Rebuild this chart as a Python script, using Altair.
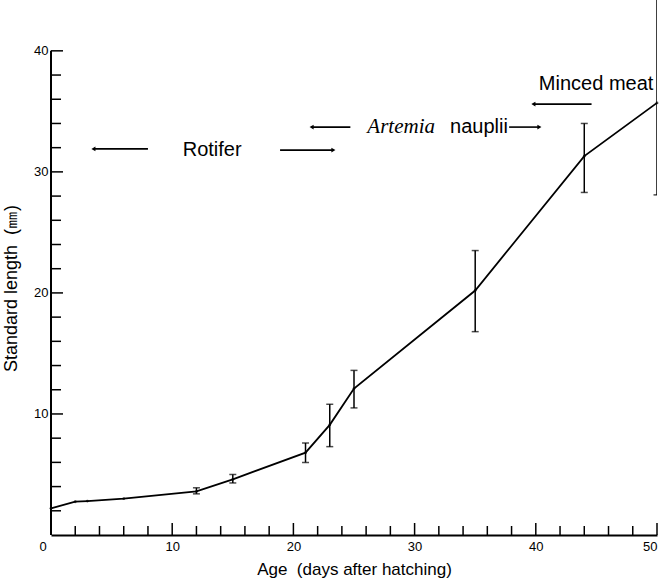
import altair as alt
import pandas as pd

# ---- data ----
age = [0, 2, 3, 6, 12, 15, 21, 23, 25, 35, 44, 50]
length = [2.2, 2.75, 2.8, 3.0, 3.6, 4.6, 6.8, 9.1, 12.1, 20.2, 31.3, 35.7]

err_age = [12, 15, 21, 23, 25, 35, 44, 50]
err_low = [3.4, 4.3, 6.0, 7.3, 10.5, 16.8, 28.3, 28.1]
err_high = [3.9, 5.0, 7.6, 10.8, 13.6, 23.5, 34.0, 44.5]

x_major = [10, 20, 30, 40, 50]
x_minor = [2, 4, 6, 8, 12, 14, 16, 18, 22, 24, 26, 28, 32, 34, 36, 38, 42, 44, 46, 48]
y_major = [10, 20, 30, 40]
y_minor = [2, 4, 6, 8, 12, 14, 16, 18, 22, 24, 26, 28, 32, 34, 36, 38]

# annotation arrows: tail x, head x, y
arrow_tail = [8.0, 18.9, 24.7, 37.8, 44.6]
arrow_head = [3.5, 23.3, 21.5, 40.3, 39.8]
arrow_y = [31.9, 31.8, 33.7, 33.7, 35.6]

center_labels = ["Rotifer"]
center_x = [13.3]
center_y = [31.8]

right_labels = ["nauplii", "Minced\u00a0meat"]
right_x = [37.7, 49.7]
right_y = [33.7, 37.3]

italic_label = ["Artemia"]
italic_x = [26.1]
italic_y = [33.7]

FONT = "Liberation Sans"

df = pd.DataFrame({"age": age, "length": length})
one = pd.DataFrame({"k": [0]})
err = pd.DataFrame({"age": err_age, "lo": err_low, "hi": err_high})
arrows = pd.DataFrame({"x1": arrow_tail, "x2": arrow_head, "y": arrow_y})
arrows["shape"] = ["triangle-left" if h < t else "triangle-right" for t, h in zip(arrow_tail, arrow_head)]
ctxt = pd.DataFrame({"x": center_x, "y": center_y, "t": center_labels})
rtxt = pd.DataFrame({"x": right_x, "y": right_y, "t": right_labels})
itxt = pd.DataFrame({"x": italic_x, "y": italic_y, "t": italic_label})

xs = alt.Scale(domain=[0, 50], nice=False, zero=False)
ys = alt.Scale(domain=[0, 44.2], nice=False, zero=False)

base_x = alt.X("age:Q", scale=xs, axis=alt.Axis(
    values=x_major, tickSize=0, grid=False, domainColor="black", domainWidth=2,
    labelFont=FONT, labelFontSize=13, labelColor="black", labelPadding=5,
    title="Age\u00a0\u00a0(days after hatching)", titleFont=FONT, titleFontSize=17,
    titleFontWeight="normal", titleColor="black", titlePadding=8))
base_y = alt.Y("length:Q", scale=ys, axis=alt.Axis(
    values=y_major, tickSize=0, grid=False, domain=False,
    labelFont=FONT, labelFontSize=13, labelColor="black", labelPadding=3,
    title="Standard length\u00a0\u00a0(㎜)", titleFont=FONT, titleFontSize=18,
    titleFontWeight="normal", titleColor="black", titleX=-31, titleY=288))

line = alt.Chart(df).mark_line(color="black", strokeWidth=1.8).encode(x=base_x, y=base_y)
pts = alt.Chart(df).mark_point(filled=True, color="black", size=8).encode(x="age:Q", y="length:Q")

ebar = alt.Chart(err).mark_rule(color="black", strokeWidth=1.5, clip=True).encode(
    x="age:Q", y="lo:Q", y2="hi:Q")
cap_lo = alt.Chart(err).mark_tick(color="black", orient="horizontal", size=7, thickness=1.5, clip=True).encode(
    x="age:Q", y="lo:Q")
cap_hi = alt.Chart(err).mark_tick(color="black", orient="horizontal", size=7, thickness=1.5, clip=True).encode(
    x="age:Q", y="hi:Q")

yaxis_line = alt.Chart(one).mark_rule(color="black", strokeWidth=2).encode(
    x=alt.datum(0), y=alt.datum(0), y2=alt.datum(40))

ytm = alt.Chart(pd.DataFrame({"v": y_major})).mark_rule(color="black", strokeWidth=1.5).encode(
    y="v:Q", x=alt.value(0), x2=alt.value(12))
ytn = alt.Chart(pd.DataFrame({"v": y_minor})).mark_rule(color="black", strokeWidth=1.5).encode(
    y="v:Q", x=alt.value(0), x2=alt.value(10))
xtm = alt.Chart(pd.DataFrame({"v": x_major})).mark_rule(color="black", strokeWidth=1.5).encode(
    x="v:Q", y=alt.value(535), y2=alt.value(523))
xtn = alt.Chart(pd.DataFrame({"v": x_minor})).mark_rule(color="black", strokeWidth=1.5).encode(
    x="v:Q", y=alt.value(535), y2=alt.value(526))

zero_lbl = alt.Chart(one).mark_text(font=FONT, fontSize=13, color="black", dx=-8, dy=12).encode(
    x=alt.datum(0), y=alt.datum(0), text=alt.value("0"))

arr_line = alt.Chart(arrows).mark_rule(color="black", strokeWidth=1.6).encode(
    x="x1:Q", x2="x2:Q", y="y:Q")
arr_head = alt.Chart(arrows).mark_point(filled=True, color="black", size=22, opacity=1).encode(
    x="x2:Q", y="y:Q", shape=alt.Shape("shape:N", scale=None))

s_center = alt.Chart(ctxt).mark_text(font=FONT, fontSize=20, color="black",
    baseline="middle", align="center").encode(x="x:Q", y="y:Q", text="t:N")
s_right = alt.Chart(rtxt).mark_text(font=FONT, fontSize=20, color="black",
    baseline="middle", align="right").encode(x="x:Q", y="y:Q", text="t:N")
i_txt = alt.Chart(itxt).mark_text(font="Liberation Serif", fontStyle="italic", fontSize=21, color="black",
    baseline="middle", align="left").encode(x="x:Q", y="y:Q", text="t:N")

chart = alt.layer(
    line, pts, ebar, cap_lo, cap_hi, yaxis_line, ytm, ytn, xtm, xtn, zero_lbl,
    arr_line, arr_head, s_center, s_right, i_txt
).properties(
    width=606, height=535,
    autosize=alt.AutoSizeParams(type="none"),
    padding={"left": 51, "top": 0, "right": 7, "bottom": 49},
).configure(background="white").configure_view(stroke=None)

chart.save("out.html", embed_options={"renderer": "svg", "actions": False})
